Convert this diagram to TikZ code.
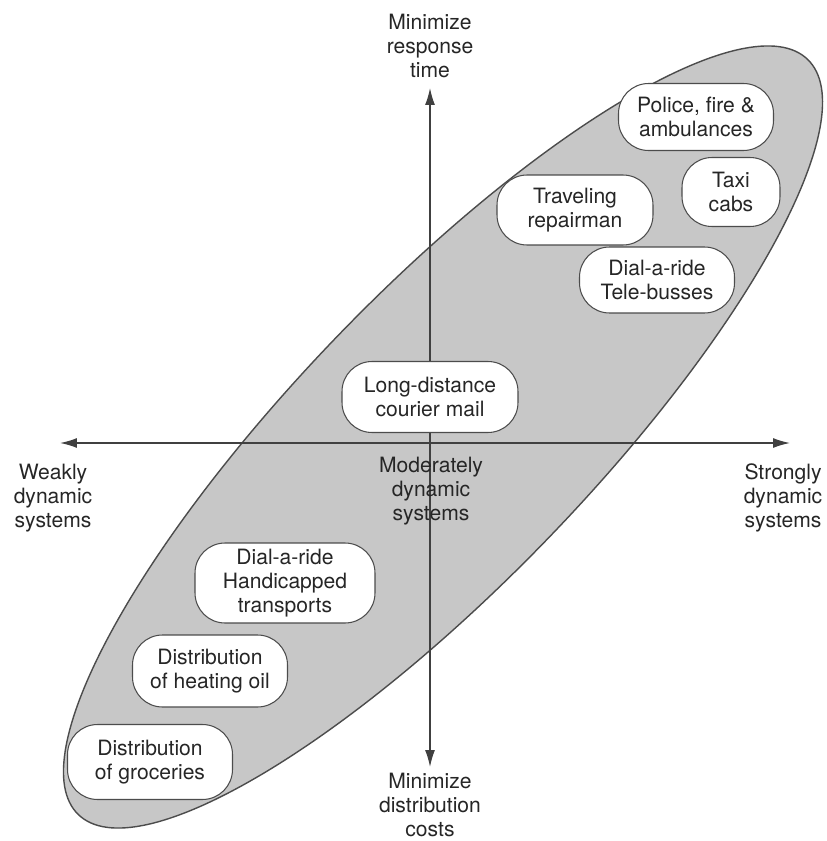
\documentclass[tikz,border=0pt]{standalone}
\usepackage{fontspec}
\setmainfont{TeX Gyre Heros}
\usetikzlibrary{arrows.meta}

\begin{document}
\begin{tikzpicture}[x=0.02cm, y=-0.02cm,
every node/.style={font=\fontsize{12}{13.6}\selectfont},
case/.style={rectangle, rounded corners=0.6cm, draw=black!70, fill=white,
line width=0.6pt, align=center, inner sep=1pt, text=black!85},
%
axisline/.style={draw=black!75, line width=0.8pt,
{Latex[length=3.4mm, width=2mm]}-{Latex[length=3.4mm, width=2mm]}},
%
axislabel/.style={align=center, text=black!85, inner sep=0pt},
%
zone/.style={draw=black!70, line width=0.8pt, fill=black!22}]

\useasboundingbox (0,0) rectangle (826,841);

%%%%%%%%%%%%%%%%%%%%%%%%%%%%%%
\coordinate (mid) at (443,437);
\path[zone, rotate around={46:(mid)}] (mid) ellipse [x radius=10.5cm, y radius=2.92cm];

%%%%%%%%%%%%%%%%%%%%%%%%%%%%%%
\coordinate (costEnd) at (430,767);
\coordinate (timeEnd) at (430,88);
\coordinate (weakEnd) at (60,443);
\coordinate (strongEnd) at (790,443);
\draw[axisline] (costEnd) -- (timeEnd);
\draw[axisline] (weakEnd) -- (strongEnd);

%%%%%%%%%%%%%%%%%%%%%%%%%%%%%%
\node[axislabel] (timeLbl) at (430,46) {Minimize\\response\\time};
\node[axislabel] (costLbl) at (430,805) {Minimize\\distribution\\costs};
\node[axislabel] (weakLbl) at (53,498) {Weakly\\dynamic\\systems};
\node[axislabel] (strongLbl) at (783,498) {Strongly\\dynamic\\systems};
\node[axislabel] (moderateLbl) at (431,491) {Moderately\\dynamic\\systems};

%%%%%%%%%%%%%%%%%%%%%%%%%%%%%%
\node[case, minimum width=3.1cm, minimum height=1.34cm] (police) at (696,117)
  {Police, fire \&\\ambulances};
\node[case, minimum width=1.96cm, minimum height=1.38cm] (taxi) at (731,192)
  {Taxi\\cabs};
\node[case, minimum width=3.12cm, minimum height=1.4cm] (repair) at (575,210)
  {Traveling\\repairman};
\node[case, minimum width=3.1cm, minimum height=1.32cm] (telebus) at (657,280)
  {Dial-a-ride\\Tele-busses};
\node[case, minimum width=3.52cm, minimum height=1.42cm] (courier) at (430,397)
  {Long-distance\\courier mail};
\node[case, minimum width=3.6cm, minimum height=1.6cm] (handicap) at (285,583)
  {Dial-a-ride\\Handicapped\\transports};
\node[case, minimum width=3.1cm, minimum height=1.44cm] (oil) at (210,671)
  {Distribution\\of heating oil};
\node[case, minimum width=3.3cm, minimum height=1.5cm] (grocery) at (150,762)
  {Distribution\\of groceries};

\end{tikzpicture}
\end{document}
